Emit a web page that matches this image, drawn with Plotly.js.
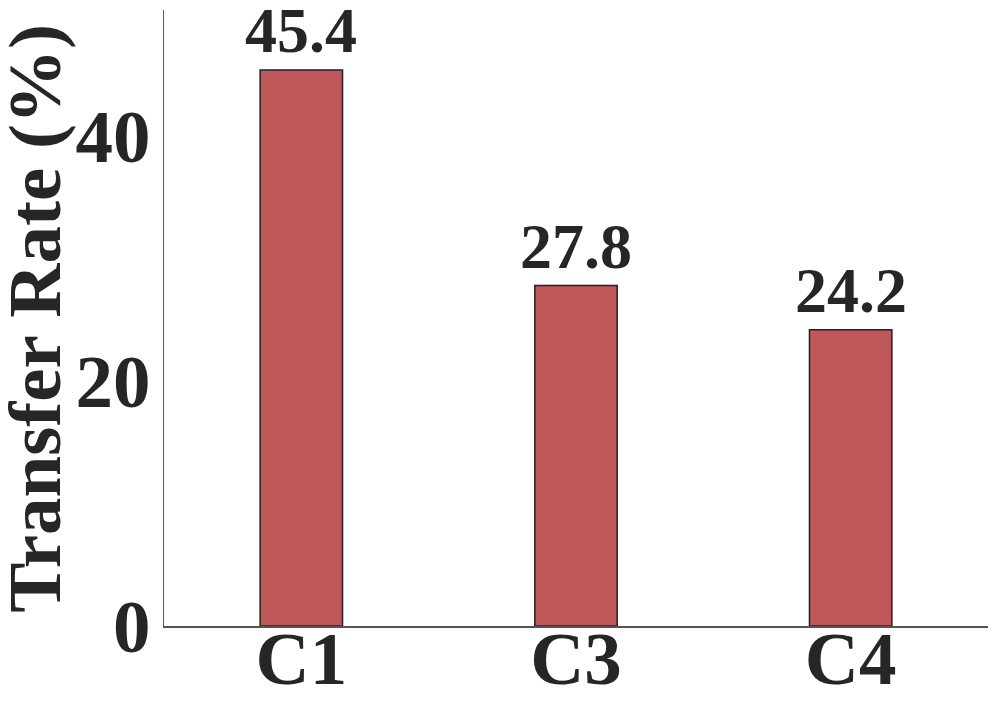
<!DOCTYPE html>
<html>
<head>
<meta charset="utf-8">
<script src="https://cdn.plot.ly/plotly-3.0.1.min.js"></script>
<style>html,body{margin:0;padding:0;background:#fff;}#chart{width:997px;height:711px;}</style>
</head>
<body>
<div id="chart"></div>
<script>
const categories = ["C1", "C3", "C4"];
const transferRate = [45.4, 27.8, 24.2];
const valueLabels = ["45.4", "27.8", "24.2"];
const yTickValues = [0, 20, 40];
const yTickLabels = ["0", "20", "40"];
const yTitle = "Transfer Rate (%)";

const FONT = "'Liberation Serif', 'Times New Roman', serif";
const INK = "#262626";

const trace = {
  type: "bar",
  x: categories,
  y: transferRate,
  width: 0.3,
  marker: { color: "#c0575a", line: { color: "#222222", width: 1.5 } },
  hoverinfo: "skip"
};

const annotations = categories.map((c, i) => ({
  x: c, y: transferRate[i], xref: "x", yref: "y",
  text: "<b>" + valueLabels[i] + "</b>",
  showarrow: false, yanchor: "bottom", yshift: 2,
  font: { family: FONT, size: 64, color: INK }
}));
annotations.push({
  xref: "paper", yref: "paper", x: -0.158, y: 0.5,
  xanchor: "center", yanchor: "middle", textangle: -90,
  text: "<b>" + yTitle + "</b>", showarrow: false,
  font: { family: FONT, size: 75, color: INK }
});

const layout = {
  width: 997, height: 711,
  margin: { l: 164, r: 9, t: 10, b: 85 },
  paper_bgcolor: "#ffffff", plot_bgcolor: "#ffffff",
  showlegend: false,
  xaxis: {
    type: "category", range: [-0.5, 2.5],
    showline: true, linecolor: "#555555", linewidth: 1.5,
    showgrid: false, zeroline: false, ticks: "",
    tickfont: { family: FONT, size: 75, color: INK, weight: "bold" },
    ticklabelstandoff: -34
  },
  yaxis: {
    range: [0, 50.3],
    tickvals: yTickValues, ticktext: yTickLabels,
    showline: true, linecolor: "#555555", linewidth: 1.5,
    showgrid: false, zeroline: false, ticks: "",
    tickfont: { family: FONT, size: 75, color: INK, weight: "bold" },
    ticklabelstandoff: -3
  },
  annotations: annotations
};

Plotly.newPlot("chart", [trace], layout, { displayModeBar: false, staticPlot: true });
</script>
</body>
</html>
